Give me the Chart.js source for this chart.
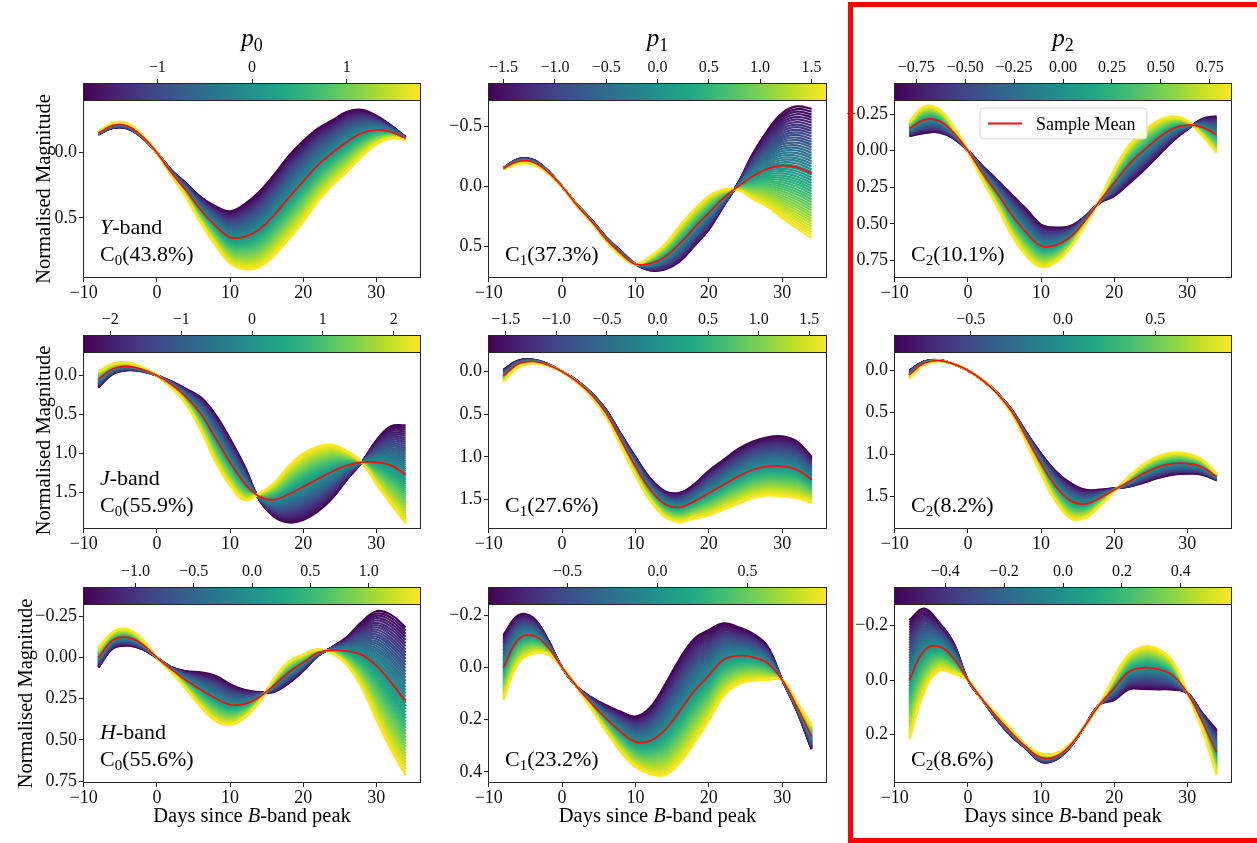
<!DOCTYPE html>
<html>
<head>
<meta charset="utf-8">
<script src="https://cdn.jsdelivr.net/npm/chart.js@4.4.1/dist/chart.umd.min.js"></script>
<style>
  body { margin: 0; background: #fff; width: 1257px; height: 843px; position: relative; overflow: hidden; }
  canvas { position: absolute; }
  #redbox { position: absolute; left: 848px; top: 2px; width: 500px; height: 841px; border: 5px solid red; box-sizing: border-box; z-index: 5; }
</style>
</head>
<body>
<div id="redbox"></div>
<script>
// phase grid (days since B-band peak)
const days = [-8, -6, -4, -2, 0, 2, 4, 6, 8, 10, 12, 14, 16, 18, 20, 22, 24, 26, 28, 30, 32, 34];

// sample mean per band
const meanY = [-0.15, -0.21, -0.205, -0.125, 0, 0.155, 0.29, 0.44, 0.56, 0.65, 0.645, 0.59, 0.48, 0.346, 0.22, 0.095, 0.0, -0.085, -0.15, -0.175, -0.16, -0.11];
const meanJ = [0.05, -0.086, -0.117, -0.078, 0, 0.117, 0.273, 0.49, 0.8, 1.11, 1.38, 1.55, 1.59, 1.52, 1.423, 1.325, 1.228, 1.15, 1.11, 1.11, 1.15, 1.267];
const meanH = [0.0, -0.107, -0.123, -0.081, 0.0, 0.073, 0.137, 0.195, 0.247, 0.285, 0.281, 0.24, 0.168, 0.09, 0.03, -0.03, -0.045, -0.04, -0.017, 0.048, 0.15, 0.266];

// component shapes: offset from the mean at the top end of each colour bar
const compY0 = [-0.01, -0.02, -0.02, -0.01, 0, 0.02, 0.055, 0.1, 0.15, 0.2, 0.25, 0.29, 0.31, 0.32, 0.31, 0.28, 0.25, 0.23, 0.18, 0.11, 0.05, 0.01];
const compY1 = [0.005, 0.02, 0.02, 0.01, 0, 0.005, 0.01, 0.015, 0.02, 0, -0.058, -0.105, -0.15, -0.153, -0.14, -0.07, 0.03, 0.19, 0.32, 0.44, 0.51, 0.54];
const compY2 = [-0.05, -0.09, -0.08, -0.04, 0, 0.05, 0.09, 0.14, 0.16, 0.145, 0.12, 0.075, 0.03, -0.01, -0.09, -0.13, -0.135, -0.12, -0.085, -0.03, 0.056, 0.125];
const compJ0 = [-0.105, -0.065, -0.05, -0.025, 0, 0.04, 0.1, 0.21, 0.3, 0.3, 0.215, -0.04, -0.215, -0.36, -0.425, -0.415, -0.34, -0.18, 0, 0.28, 0.5, 0.63];
const compJ1 = [0.07, 0.04, 0.02, 0.01, 0, 0.01, 0.02, 0.04, 0.07, 0.11, 0.13, 0.15, 0.17, 0.2, 0.26, 0.29, 0.32, 0.33, 0.34, 0.35, 0.33, 0.27];
const compJ2 = [0.05, 0.02, 0.005, 0, 0, 0, 0.005, 0.02, 0.06, 0.12, 0.18, 0.21, 0.17, 0.1, 0.02, -0.06, -0.11, -0.13, -0.13, -0.12, -0.09, -0.04];
const compH0 = [-0.06, -0.05, -0.05, -0.03, 0, 0.015, 0.055, 0.105, 0.137, 0.124, 0.085, 0.03, -0.04, -0.066, -0.05, -0.02, 0.02, 0.087, 0.2, 0.33, 0.41, 0.45];
const compH1 = [0.125, 0.093, 0.07, 0.03, 0, 0, 0.022, 0.05, 0.077, 0.097, 0.128, 0.173, 0.2, 0.2, 0.174, 0.14, 0.11, 0.09, 0.064, 0, -0.017, -0.048];
const compH2 = [0.22, 0.155, 0.09, 0.058, 0, 0, -0.01, -0.012, -0.006, -0.015, -0.012, -0.005, 0, 0, -0.043, -0.064, -0.078, -0.074, -0.052, 0, 0.03, 0.083];

const bands = ['Y', 'J', 'H'];
const varPct = [['43.8', '37.3', '10.1'], ['55.9', '27.6', '8.2'], ['55.6', '23.2', '8.6']];

// colour bar limits (+/-) and ticks
const cbMax = [[1.785, 1.652, 0.864], [2.386, 1.675, 0.915], [1.449, 0.942, 0.574]];
const cbTicks = [
  [[-1, 0, 1], [-1.5, -1, -0.5, 0, 0.5, 1, 1.5], [-0.75, -0.5, -0.25, 0, 0.25, 0.5, 0.75]],
  [[-2, -1, 0, 1, 2], [-1.5, -1, -0.5, 0, 0.5, 1, 1.5], [-0.5, 0, 0.5]],
  [[-1, -0.5, 0, 0.5, 1], [-0.5, 0, 0.5], [-0.4, -0.2, 0, 0.2, 0.4]]
];
const cbDec = [[0, 1, 2], [0, 1, 1], [1, 1, 1]];

// y limits (top, bottom) and ticks
const yLim = [
  [[-0.405, 0.962], [-0.724, 0.766], [-0.346, 0.87]],
  [[-0.30, 1.964], [-0.227, 1.843], [-0.219, 1.888]],
  [[-0.326, 0.762], [-0.244, 0.443], [-0.279, 0.378]]
];
const yTicks = [
  [[0, 0.5], [-0.5, 0, 0.5], [-0.25, 0, 0.25, 0.5, 0.75]],
  [[0, 0.5, 1, 1.5], [0, 0.5, 1, 1.5], [0, 0.5, 1, 1.5]],
  [[-0.25, 0, 0.25, 0.5, 0.75], [-0.2, 0, 0.2, 0.4], [-0.2, 0, 0.2]]
];
const yDec = [[1, 1, 2], [1, 1, 1], [2, 1, 1]];
const xTicks = [-10, 0, 10, 20, 30];

const means = [meanY, meanJ, meanH];
const comps = [[compY0, compY1, compY2], [compJ0, compJ1, compJ2], [compH0, compH1, compH2]];

// layout
const colLeft = [83, 488, 894], colRight = [421, 827, 1232];
const rowTop = [100, 352, 604], rowBottom = [278, 529, 783];
const yTitleGap = [33, 33, 51];
const M = { l: 85, t: 100, r: 12, b: 50 };
const cbH = 17;
const NCURVES = 48;
const SERIF = '"Liberation Serif", "Times New Roman", serif';
const frameColor = '#262626';

const vir = ['#440154', '#482475', '#414487', '#355f8d', '#2a788e', '#21918c', '#22a884', '#44bf70', '#7ad151', '#bddf26', '#fde725'];
function hexRgb(h) { return [1, 3, 5].map(i => parseInt(h.slice(i, i + 2), 16)); }
function viridis(t) {
  const s = Math.max(0, Math.min(1, t)) * 10;
  const i = Math.min(9, Math.floor(s)), f = s - i;
  const a = hexRgb(vir[i]), b = hexRgb(vir[i + 1]);
  return 'rgb(' + a.map((v, k) => Math.round(v + (b[k] - v) * f)).join(',') + ')';
}
const fmt = (v, d) => v.toFixed(d).replace('-', '\u2212');

// text with italic / subscript pieces
function rich(ctx, parts, x, y, size, align) {
  const fontFor = st => (st === 'i' ? 'italic ' : '') + (st === 's' ? Math.round(size * 0.7) : size) + 'px ' + SERIF;
  let w = 0;
  parts.forEach(p => { ctx.font = fontFor(p[1]); w += ctx.measureText(p[0]).width; });
  let cx = align === 'center' ? x - w / 2 : x;
  ctx.textAlign = 'left';
  ctx.textBaseline = 'alphabetic';
  ctx.fillStyle = '#000';
  parts.forEach(p => {
    ctx.font = fontFor(p[1]);
    ctx.fillText(p[0], cx, p[1] === 's' ? y + size * 0.2 : y);
    cx += ctx.measureText(p[0]).width;
  });
}

const deco = {
  id: 'deco',
  afterDraw(chart, args, o) {
    const ctx = chart.ctx, ca = chart.chartArea;
    const r = o.r, c = o.c;
    ctx.save();
    // colour bar
    const g = ctx.createLinearGradient(ca.left, 0, ca.right, 0);
    vir.forEach((col, i) => g.addColorStop(i / 10, col));
    ctx.fillStyle = g;
    ctx.fillRect(ca.left, ca.top - cbH, ca.right - ca.left, cbH);
    ctx.strokeStyle = frameColor;
    ctx.lineWidth = 1;
    ctx.strokeRect(ca.left + 0.5, ca.top - cbH + 0.5, ca.right - ca.left - 1, cbH);
    // axes frame
    ctx.strokeRect(ca.left + 0.5, ca.top + 0.5, ca.right - ca.left - 1, ca.bottom - ca.top - 1);
    const cx = (ca.left + ca.right) / 2, cy = (ca.top + ca.bottom) / 2;
    if (r === 0) rich(ctx, [['p', 'i'], [String(c), 's']], cx, 46, 25, 'center');
    if (c === 0) {
      ctx.save();
      ctx.translate(ca.left - yTitleGap[r], cy);
      ctx.rotate(-Math.PI / 2);
      rich(ctx, [['Normalised Magnitude', '']], 0, 0, 20.5, 'center');
      ctx.restore();
      rich(ctx, [[bands[r], 'i'], ['-band', '']], ca.left + 17, ca.bottom - 44, 22, 'left');
    }
    if (r === 2) rich(ctx, [['Days since ', ''], ['B', 'i'], ['-band peak', '']], cx, ca.bottom + 39, 20.5, 'center');
    rich(ctx, [['C', ''], [String(c), 's'], ['(' + varPct[r][c] + '%)', '']], ca.left + 17, ca.bottom - 17, 22, 'left');
    if (r === 0 && c === 2) {
      const bx = ca.left + 86, by = ca.top + 8, bw = 167, bh = 31, rad = 4;
      ctx.beginPath();
      ctx.moveTo(bx + rad, by);
      ctx.arcTo(bx + bw, by, bx + bw, by + bh, rad);
      ctx.arcTo(bx + bw, by + bh, bx, by + bh, rad);
      ctx.arcTo(bx, by + bh, bx, by, rad);
      ctx.arcTo(bx, by, bx + bw, by, rad);
      ctx.closePath();
      ctx.fillStyle = 'rgba(255,255,255,0.85)';
      ctx.fill();
      ctx.strokeStyle = '#d6d6d6';
      ctx.stroke();
      ctx.strokeStyle = '#ee1111';
      ctx.lineWidth = 1.8;
      ctx.beginPath();
      ctx.moveTo(bx + 8, by + 15.5);
      ctx.lineTo(bx + 42, by + 15.5);
      ctx.stroke();
      rich(ctx, [['Sample Mean', '']], bx + 56, by + 21.5, 18, 'left');
    }
    ctx.restore();
  }
};

for (let r = 0; r < 3; r++) {
  for (let c = 0; c < 3; c++) {
    const cv = document.createElement('canvas');
    const w = colRight[c] - colLeft[c] + M.l + M.r;
    const h = rowBottom[r] - rowTop[r] + M.t + M.b;
    cv.width = w; cv.height = h;
    cv.style.left = (colLeft[c] - M.l) + 'px';
    cv.style.top = (rowTop[r] - M.t) + 'px';
    cv.style.width = w + 'px'; cv.style.height = h + 'px';
    document.body.appendChild(cv);

    const mean = means[r], comp = comps[r][c], pm = cbMax[r][c];
    const datasets = [{
      data: days.map((d, i) => ({ x: d, y: mean[i] })),
      borderColor: '#ee1111', borderWidth: 1.8, order: 0
    }];
    for (let k = 0; k < NCURVES; k++) {
      const t = k / (NCURVES - 1);
      const p = -pm + 2 * pm * t;
      datasets.push({
        data: days.map((d, i) => ({ x: d, y: mean[i] + (p / pm) * comp[i] })),
        borderColor: viridis(t), borderWidth: 2.2, order: NCURVES - k + 1
      });
    }

    const tickFont = { family: SERIF, size: 18 };
    new Chart(cv, {
      type: 'line',
      data: { datasets },
      options: {
        responsive: false, animation: false, events: [],
        layout: { padding: { left: 0, top: 0, right: M.r, bottom: 0 } },
        elements: { point: { radius: 0 }, line: { tension: 0.4, fill: false } },
        plugins: { legend: { display: false }, tooltip: { enabled: false }, deco: { r, c } },
        scales: {
          x: {
            type: 'linear', position: 'bottom', min: -10.1, max: 36.1,
            afterBuildTicks: s => { s.ticks = xTicks.map(v => ({ value: v })); },
            afterFit: s => { s.height = M.b; },
            grid: { drawOnChartArea: false, tickLength: 4, color: frameColor },
            border: { display: false },
            ticks: { font: tickFont, color: '#111', padding: 0, autoSkip: false, maxRotation: 0, callback: v => fmt(v, 0) }
          },
          x2: {
            type: 'linear', position: 'top', min: -pm, max: pm,
            afterBuildTicks: s => { s.ticks = cbTicks[r][c].map(v => ({ value: v })); },
            afterFit: s => { s.height = M.t; },
            grid: { drawOnChartArea: false, tickLength: cbH + 4, color: frameColor },
            border: { display: false },
            ticks: { font: { family: SERIF, size: 16 }, color: '#111', padding: 2, autoSkip: false, maxRotation: 0, callback: v => fmt(v, cbDec[r][c]) }
          },
          y: {
            type: 'linear', reverse: true, min: yLim[r][c][0], max: yLim[r][c][1],
            afterBuildTicks: s => { s.ticks = yTicks[r][c].map(v => ({ value: v })); },
            afterFit: s => { s.width = M.l; },
            grid: { drawOnChartArea: false, tickLength: 4, color: frameColor },
            border: { display: false },
            ticks: { font: tickFont, color: '#111', padding: 2, autoSkip: false, callback: v => fmt(v, yDec[r][c]) }
          }
        }
      },
      plugins: [deco]
    });
  }
}
</script>
</body>
</html>
